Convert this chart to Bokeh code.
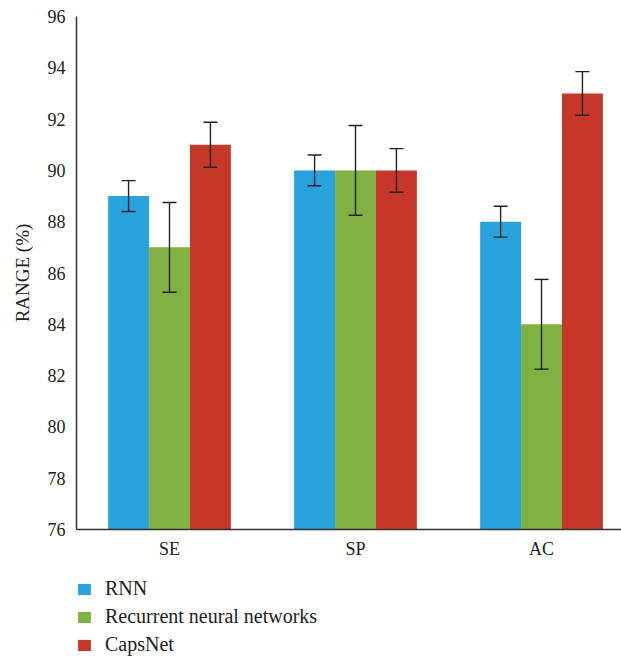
from bokeh.plotting import figure
from bokeh.layouts import column
from bokeh.models import (ColumnDataSource, FixedTicker, Range1d, Legend, LegendItem,
                          Whisker, TeeHead)
from bokeh.embed import file_html
from bokeh.resources import INLINE
import numpy as np

categories = ["SE", "SP", "AC"]
series = ["RNN", "Recurrent neural networks", "CapsNet"]
colors = ["#29A3DD", "#82B143", "#C53829"]
rnn = [89.0, 90.0, 88.0]
rnn_err = [0.6, 0.6, 0.6]
rec = [87.0, 90.0, 84.0]
rec_err = [1.75, 1.75, 1.75]
caps = [91.0, 90.0, 93.0]
caps_err = [0.88, 0.85, 0.85]
y_ticks = [76, 78, 80, 82, 84, 86, 88, 90, 92, 94, 96]

FONT = "Liberation Serif"
FS = "18px"
AFS = "19px"
LFS = "20px"

p = figure(frame_width=545, frame_height=513, output_backend="svg",
           toolbar_location=None, x_range=Range1d(0, 2.93), y_range=Range1d(76, 96),
           min_border_left=76, min_border_top=16, min_border_right=0, min_border_bottom=35)
p.outline_line_color = None
p.grid.visible = False
p.background_fill_color = "white"

centers = np.arange(len(categories)) + 0.5
bw = 0.22
offsets = [-bw, 0.0, bw]
for vals, errs, col, name, off in zip([rnn, rec, caps], [rnn_err, rec_err, caps_err],
                                       colors, series, offsets):
    v = np.array(vals)
    e = np.array(errs)
    src = ColumnDataSource(dict(x=centers + off, top=v, upper=v + e, lower=v - e))
    p.vbar(x="x", top="top", bottom=76, width=bw, source=src,
           fill_color=col, line_color=None)
    w = Whisker(source=src, base="x", upper="upper", lower="lower", level="overlay",
                line_color="#222222", line_width=1.4,
                upper_head=TeeHead(size=14, line_color="#222222", line_width=1.4),
                lower_head=TeeHead(size=14, line_color="#222222", line_width=1.4))
    p.add_layout(w)

# axes
p.yaxis.ticker = FixedTicker(ticks=y_ticks)
p.yaxis.axis_label = "RANGE (%)"
p.yaxis.axis_label_text_font = FONT
p.yaxis.axis_label_text_font_style = "normal"
p.yaxis.axis_label_text_font_size = AFS
p.yaxis.axis_label_text_color = "#222222"
p.yaxis.axis_label_standoff = 12
p.yaxis.major_label_text_font = FONT
p.yaxis.major_label_text_font_size = FS
p.yaxis.major_label_text_color = "#222222"
p.yaxis.major_label_standoff = 11
p.yaxis.major_tick_out = 0
p.yaxis.major_tick_in = 0
p.yaxis.minor_tick_out = 0
p.yaxis.minor_tick_in = 0
p.yaxis.axis_line_color = "#333333"
p.yaxis.axis_line_width = 1.5

p.xaxis.ticker = FixedTicker(ticks=list(centers))
p.xaxis.major_label_overrides = {float(c): lab for c, lab in zip(centers, categories)}
p.xaxis.major_label_text_font = FONT
p.xaxis.major_label_text_font_size = FS
p.xaxis.major_label_text_color = "#222222"
p.xaxis.major_label_standoff = 9
p.xaxis.major_tick_out = 0
p.xaxis.major_tick_in = 0
p.xaxis.minor_tick_out = 0
p.xaxis.minor_tick_in = 0
p.xaxis.axis_line_color = "#333333"
p.xaxis.axis_line_width = 1.5

# legend in its own strip below the chart
lf = figure(width=621, height=94, output_backend="svg", toolbar_location=None,
            x_range=Range1d(0, 1), y_range=Range1d(0, 1),
            x_axis_location=None, y_axis_location=None,
            min_border=0)
lf.outline_line_color = None
lf.grid.visible = False
items = []
for col, name in zip(colors, series):
    r = lf.vbar(x=[5.0], top=[5.0], bottom=[4.0], width=0.1, fill_color=col, line_color=None)
    items.append(LegendItem(label=name, renderers=[r]))
legend = Legend(items=items, location=(0, 2), orientation="vertical",
                glyph_width=16, glyph_height=14, label_height=14,
                label_standoff=13, spacing=5, padding=0, margin=0,
                border_line_color=None, background_fill_alpha=0,
                label_text_font=FONT, label_text_font_size=LFS,
                label_text_color="#222222")
lf.add_layout(legend, "center")

layout = column(p, lf, spacing=0)
open("out.html", "w").write(file_html(layout, INLINE))
